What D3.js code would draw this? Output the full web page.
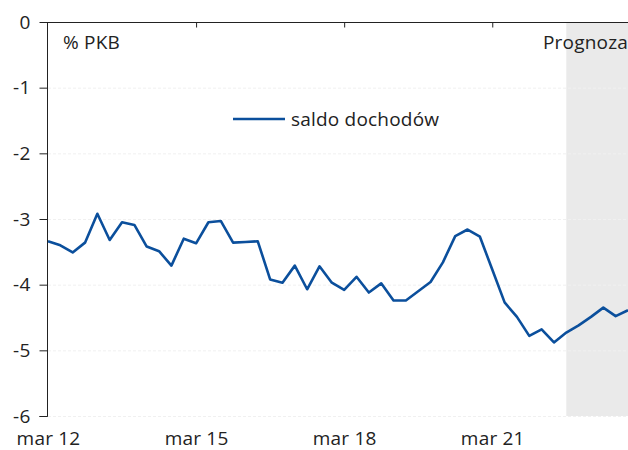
<!DOCTYPE html>
<html>
<head>
<meta charset="utf-8">
<script src="https://cdn.jsdelivr.net/npm/d3@7"></script>
<style>
  body { margin: 0; background: #fff; }
  svg text { font-family: "Open Sans", "Noto Sans", sans-serif; fill: #222; letter-spacing: 0.2px; }
</style>
</head>
<body>
<svg id="chart" width="628" height="450"></svg>
<script>
// quarterly data, mar 12 .. gru 23
var years = ['12', '13', '14', '15', '16', '17', '18', '19', '20', '21', '22', '23'];
var months = ['mar', 'cze', 'wrz', 'gru'];
var saldo = [
  -3.34, -3.40, -3.51, -3.36, -2.92, -3.32, -3.05, -3.09, -3.42, -3.49, -3.71, -3.30,
  -3.37, -3.05, -3.03, -3.36, -3.35, -3.34, -3.92, -3.97, -3.71, -4.07, -3.72, -3.97,
  -4.08, -3.88, -4.12, -3.98, -4.24, -4.24, -4.10, -3.96, -3.66, -3.26, -3.16, -3.27,
  -3.77, -4.27, -4.49, -4.78, -4.68, -4.88, -4.73, -4.62, -4.49, -4.35, -4.48, -4.39
];
var tickLabels = ['mar 12', 'mar 15', 'mar 18', 'mar 21'];
var yTicks = [0, -1, -2, -3, -4, -5, -6];
var forecastStart = 'wrz 22';

var quarters = [];
years.forEach(function(y) { months.forEach(function(m) { quarters.push(m + ' ' + y); }); });

var svg = d3.select('#chart'),
    margin = {top: 22, right: 0, bottom: 34, left: 48},
    width = 628 - margin.left - margin.right,
    height = 450 - margin.top - margin.bottom,
    g = svg.append('g').attr('transform', 'translate(' + margin.left + ',' + margin.top + ')');

var x = d3.scalePoint().domain(quarters).range([0, width]);
var y = d3.scaleLinear().domain([0, -6]).range([0, height]);

// forecast shading
g.append('rect')
    .attr('x', x(forecastStart))
    .attr('y', 0)
    .attr('width', width - x(forecastStart))
    .attr('height', height)
    .attr('fill', '#eaeaea');

// gridlines
g.append('g')
  .selectAll('line')
  .data(yTicks.slice(1))
  .enter().append('line')
    .attr('x1', 0).attr('x2', width)
    .attr('y1', function(d) { return y(d) + 0.5; })
    .attr('y2', function(d) { return y(d) + 0.5; })
    .attr('stroke', '#f0f0f0')
    .attr('stroke-dasharray', '3,2');

// top axis (value 0)
var topAxis = g.append('g')
    .attr('transform', 'translate(0,0.5)')
    .call(d3.axisTop(x).tickValues(tickLabels.slice(1)).tickSize(-5).tickFormat(''));
topAxis.select('.domain').remove();
topAxis.selectAll('line').attr('stroke', '#222');
g.append('line')
    .attr('x1', -6).attr('x2', width)
    .attr('y1', 0.5).attr('y2', 0.5)
    .attr('stroke', '#222');

// left axis
var leftAxis = g.append('g')
    .attr('transform', 'translate(-0.5,0)')
    .call(d3.axisLeft(y).tickValues(yTicks).tickSize(8).tickPadding(9)
      .tickFormat(function(d) { return String(d); }));
leftAxis.select('.domain').attr('stroke', '#222').attr('d', 'M0,0V' + (height + 0.5) + 'H-8');
leftAxis.selectAll('.tick line').attr('stroke', '#222');
leftAxis.selectAll('.tick text').attr('font-size', 19).attr('font-family', null);

// bottom labels
var bottomAxis = g.append('g')
    .attr('transform', 'translate(0,' + height + ')')
    .call(d3.axisBottom(x).tickValues(tickLabels).tickSize(0).tickPadding(16));
bottomAxis.select('.domain').remove();
bottomAxis.selectAll('text').attr('font-size', 19).attr('font-family', null);

// series line
g.append('path')
    .datum(saldo)
    .attr('fill', 'none')
    .attr('stroke', '#0b4f9c')
    .attr('stroke-width', 2.6)
    .attr('stroke-linejoin', 'round')
    .attr('d', d3.line()
      .x(function(d, i) { return x(quarters[i]); })
      .y(function(d) { return y(d); }));

// unit label
g.append('text')
    .attr('x', 15).attr('y', 27)
    .attr('font-size', 19)
    .text('% PKB');

g.append('text')
    .attr('x', width).attr('y', 27)
    .attr('text-anchor', 'end')
    .attr('font-size', 19)
    .text('Prognoza');

// legend
var legend = g.append('g').attr('transform', 'translate(185,97)');
legend.append('line')
    .attr('x1', 0).attr('x2', 52)
    .attr('stroke', '#0b4f9c')
    .attr('stroke-width', 2.6);
legend.append('text')
    .attr('x', 58).attr('dy', '0.35em')
    .attr('font-size', 19)
    .text('saldo dochodów');
</script>
</body>
</html>
